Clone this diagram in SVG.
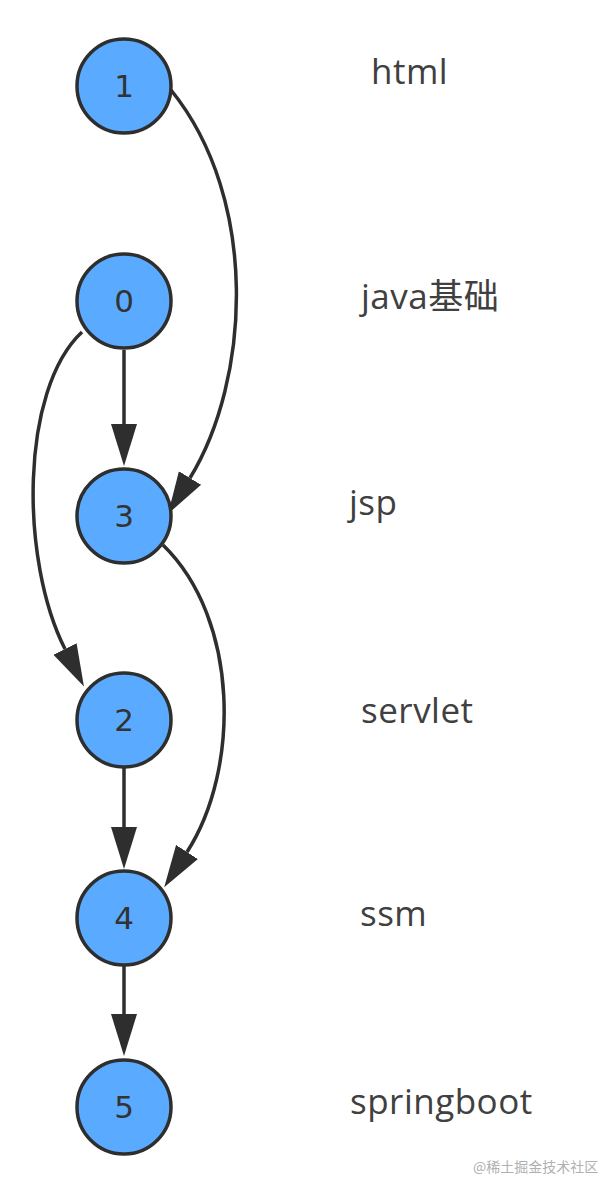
<svg xmlns="http://www.w3.org/2000/svg" width="608" height="1192" viewBox="0 0 608 1192">
<defs>
<style>
.node circle{fill:#5aabff;stroke:#2e2e2e;stroke-width:3.5}
.node text{font-family:"DejaVu Sans",sans-serif;font-size:31px;fill:#333;text-anchor:middle}
.edge{fill:none;stroke:#2e2e2e;stroke-width:3.5;marker-end:url(#arrow)}
.label{font-family:"Open Sans","Noto Sans CJK SC",sans-serif;font-size:35px;letter-spacing:0.5px;fill:#404040}
.caption{font-family:"Noto Sans CJK SC",sans-serif;font-size:14px;fill:#b0b0b0}
</style>
<marker id="arrow" markerUnits="userSpaceOnUse" markerWidth="44" markerHeight="28" viewBox="0 -14 44 28" refX="0" refY="0" orient="auto">
<path d="M0,-13 L42,0 L0,13 Z" fill="#2e2e2e"/>
</marker>
</defs>
<rect width="608" height="1192" fill="#ffffff"/>
<g id="connectors">
<path class="edge" d="M171,90 C260,200 250,380 190,478"/>
<path class="edge" d="M124,350 L124,424"/>
<path class="edge" d="M82,332 C20,390 20,560 65,649"/>
<path class="edge" d="M163,545 C240,620 240,770 187,852"/>
<path class="edge" d="M124,768 L124,827"/>
<path class="edge" d="M124,966 L124,1014"/>
</g>
<g id="node1" class="node"><circle cx="124" cy="86" r="47"/><text x="124" y="97">1</text></g>
<g id="node0" class="node"><circle cx="124" cy="301" r="47"/><text x="124" y="312">0</text></g>
<g id="node3" class="node"><circle cx="124" cy="516" r="47"/><text x="124" y="527">3</text></g>
<g id="node2" class="node"><circle cx="124" cy="720" r="47"/><text x="124" y="731">2</text></g>
<g id="node4" class="node"><circle cx="124" cy="918" r="47"/><text x="124" y="929">4</text></g>
<g id="node5" class="node"><circle cx="124" cy="1107" r="47"/><text x="124" y="1118">5</text></g>
<g id="labels">
<text class="label" x="371" y="84">html</text>
<text class="label" x="361" y="309">java基础</text>
<text class="label" x="349" y="515">jsp</text>
<text class="label" x="361" y="723">servlet</text>
<text class="label" x="360" y="926">ssm</text>
<text class="label" x="350" y="1114">springboot</text>
<text class="caption" x="473" y="1172">@稀土掘金技术社区</text>
</g>
</svg>
